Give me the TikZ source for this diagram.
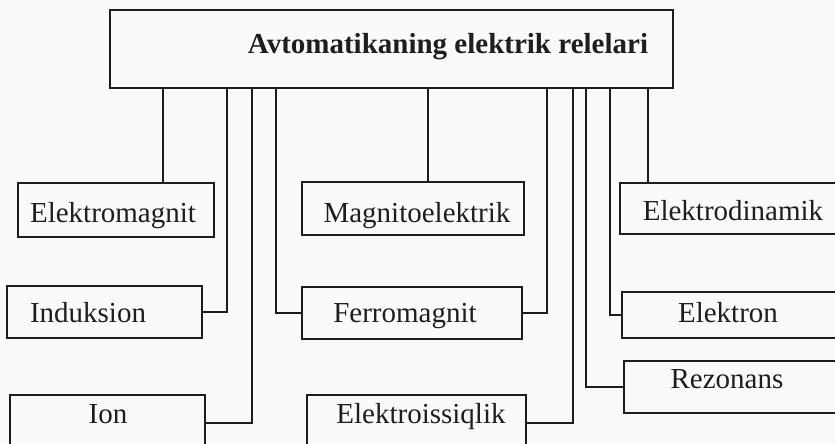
\documentclass[tikz,border=0pt]{standalone}
\usepackage{fontspec}
\setmainfont{Liberation Serif}
\definecolor{ink}{HTML}{1E1E1E}
\definecolor{paper}{HTML}{FAFAF8}
\begin{document}
\begin{tikzpicture}[x=1pt,y=-1pt,
  box/.style={draw=ink,line width=1.5pt,inner sep=0pt},
  lbl/.style={anchor=base,inner sep=0pt,text=ink,font=\fontsize{29}{33}\selectfont},
  ttl/.style={anchor=base,inner sep=0pt,text=ink,font=\fontsize{29}{33}\selectfont\bfseries},
  wire/.style={draw=ink,line width=1.5pt}]
\fill[paper] (0,0) rectangle (835,444);
\useasboundingbox (0,0) rectangle (835,444);
\clip (0,0) rectangle (835,444);
% boxes
\node[box,minimum width=563pt,minimum height=78pt] (top) at (391.5,49) {};
\node[box,minimum width=196pt,minimum height=54pt] (emag) at (116,210) {};
\node[box,minimum width=222pt,minimum height=53pt] (magel) at (413,208.5) {};
\node[box,minimum width=232pt,minimum height=51pt] (edin) at (736,208.5) {};
\node[box,minimum width=195pt,minimum height=52pt] (ind) at (104.5,312) {};
\node[box,minimum width=220pt,minimum height=52pt] (ferro) at (412,313) {};
\node[box,minimum width=230pt,minimum height=46pt] (elek) at (737,315) {};
\node[box,minimum width=228pt,minimum height=52pt] (rez) at (738,387) {};
\node[box,minimum width=195pt,minimum height=56pt] (ion) at (107.5,423) {};
\node[box,minimum width=219pt,minimum height=56pt] (eiss) at (416.5,423) {};
% texts
\node[ttl] (tTop) at (448,53) {Avtomatikaning elektrik relelari};
\node[lbl] (tEmag) at (113,222) {Elektromagnit};
\node[lbl] (tMagel) at (417,222) {Magnitoelektrik};
\node[lbl] (tEdin) at (733,220) {Elektrodinamik};
\node[lbl] (tInd) at (88,322) {Induksion};
\node[lbl] (tFerro) at (405,322) {Ferromagnit};
\node[lbl] (tElek) at (728,322) {Elektron};
\node[lbl] (tRez) at (727,388) {Rezonans};
\node[lbl] (tIon) at (108,423) {Ion};
\node[lbl] (tEiss) at (421,423) {Elektroissiqlik};
% connectors
\draw[wire] (163,0 |- top.south) -- (163,0 |- emag.north);
\draw[wire] (227,0 |- top.south) |- (ind.east);
\draw[wire] (252,0 |- top.south) |- (ion.east);
\draw[wire] (276,0 |- top.south) |- (ferro.west);
\draw[wire] (428,0 |- top.south) -- (428,0 |- magel.north);
\draw[wire] (547,0 |- top.south) |- (ferro.east);
\draw[wire] (573,0 |- top.south) |- (eiss.east);
\draw[wire] (586,0 |- top.south) |- (rez.west);
\draw[wire] (610,0 |- top.south) |- (elek.west);
\draw[wire] (648,0 |- top.south) -- (648,0 |- edin.north);
\end{tikzpicture}
\end{document}
